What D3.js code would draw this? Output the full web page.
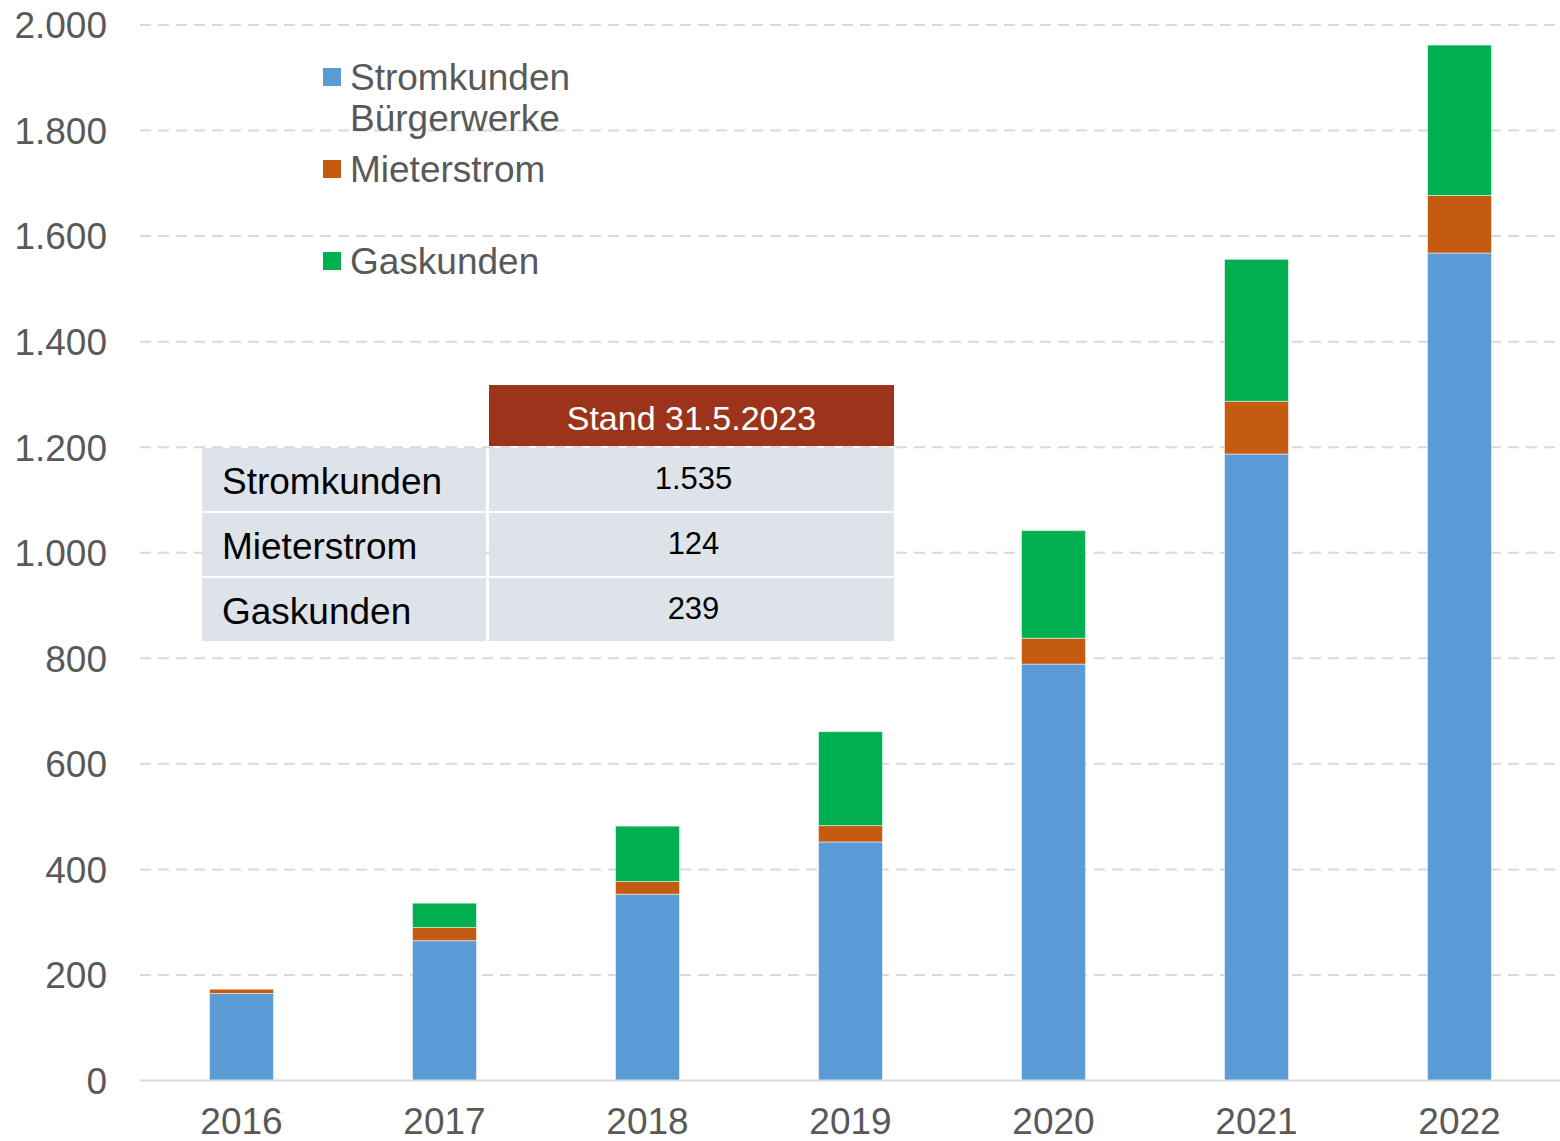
<!DOCTYPE html>
<head>
  <meta charset="utf-8">
  <script src="https://d3js.org/d3.v7.min.js"></script>
  <style>
    body { margin: 0; background: #fff; font-family: 'Liberation Sans', Arial, sans-serif; }
    .tick-label { font-size: 37px; fill: #595959; }
    .legend-label { font-size: 37px; fill: #595959; }
    .table-label { font-size: 37px; fill: #000; }
    .table-value { font-size: 31px; fill: #000; }
    .table-head { font-size: 34px; fill: #fff; }
  </style>
</head>
<body>
<div id="chart"></div>
<script>

// ---------- data ----------
const years = ["2016", "2017", "2018", "2019", "2020", "2021", "2022"];
const strom = [165, 265, 353, 452, 789, 1187, 1568];
const mieter = [8, 25, 24, 31, 49, 100, 109];
const gas = [0, 46, 105, 178, 204, 269, 285];

const seriesNames = ["Stromkunden Bürgerwerke", "Mieterstrom", "Gaskunden"];
const legendLines = [["Stromkunden", "Bürgerwerke"], ["Mieterstrom"], ["Gaskunden"]];
const colors = ["#5B9BD5", "#C55A11", "#00B050"];

const yTicks = [0, 200, 400, 600, 800, 1000, 1200, 1400, 1600, 1800, 2000];

const tableHeader = "Stand 31.5.2023";
const tableLabels = ["Stromkunden", "Mieterstrom", "Gaskunden"];
const tableValues = ["1.535", "124", "239"];

// ---------- setup ----------
const W = 1560, H = 1141;
const plot = { left: 140, right: 1561, top: 25, bottom: 1080.5 };

const svg = d3.select("#chart").append("svg")
    .attr("width", W)
    .attr("height", H);

const x = d3.scaleBand()
    .domain(years)
    .range([plot.left, plot.right])
    .paddingInner(0.685)
    .paddingOuter(0.3425);

const y = d3.scaleLinear()
    .domain([0, 2000])
    .range([plot.bottom, plot.top]);

const fmt = d3.format(",");
const deFmt = v => fmt(v).replace(/,/g, ".");

// grid lines
svg.append("g").selectAll("line")
    .data(yTicks.filter(d => d > 0))
    .join("line")
    .attr("x1", plot.left)
    .attr("x2", W)
    .attr("y1", d => y(d))
    .attr("y2", d => y(d))
    .attr("stroke", "#D9D9D9")
    .attr("stroke-width", 2)
    .attr("stroke-dasharray", "11,7");

// y tick labels
svg.append("g").selectAll("text")
    .data(yTicks)
    .join("text")
    .attr("class", "tick-label")
    .attr("x", 107)
    .attr("y", d => y(d))
    .attr("dy", "0.36em")
    .attr("text-anchor", "end")
    .text(d => deFmt(d));

// stacked bars
const rows = years.map((yr, i) => ({ year: yr, s0: strom[i], s1: mieter[i], s2: gas[i] }));
const stack = d3.stack().keys(["s0", "s1", "s2"]);
const layers = stack(rows);

svg.append("g").selectAll("g")
    .data(layers)
    .join("g")
    .attr("fill", (d, i) => colors[i])
    .selectAll("rect")
    .data(d => d.filter(p => p[1] - p[0] > 0))
    .join("rect")
    .attr("x", d => x(d.data.year))
    .attr("width", x.bandwidth())
    .attr("y", d => y(d[1]))
    .attr("height", d => y(d[0]) - y(d[1]))
    .attr("stroke", "rgba(255,255,255,0.5)")
    .attr("stroke-width", 1);

// x axis line
svg.append("line")
    .attr("x1", plot.left)
    .attr("x2", W)
    .attr("y1", plot.bottom)
    .attr("y2", plot.bottom)
    .attr("stroke", "#D9D9D9")
    .attr("stroke-width", 2);

// x labels
svg.append("g").selectAll("text")
    .data(years)
    .join("text")
    .attr("class", "tick-label")
    .attr("x", d => x(d) + x.bandwidth() / 2)
    .attr("y", 1121)
    .attr("dy", "0.36em")
    .attr("text-anchor", "middle")
    .text(d => d);

// legend
const legend = svg.append("g").selectAll("g")
    .data(seriesNames)
    .join("g")
    .attr("transform", (d, i) => `translate(323, ${77 + i * 92})`);

legend.append("rect")
    .attr("x", 0)
    .attr("y", -9)
    .attr("width", 18)
    .attr("height", 18)
    .attr("fill", (d, i) => colors[i]);

legend.append("text")
    .attr("class", "legend-label")
    .selectAll("tspan")
    .data((d, i) => legendLines[i])
    .join("tspan")
    .attr("x", 27)
    .attr("y", (d, j) => j * 41)
    .attr("dy", "0.36em")
    .text(d => d);

// table
const tbl = svg.append("g");
const colX = [202, 489], colW = [284, 405];
const headY = 385, headH = 61, rowY0 = 448, rowH = 63, rowGap = 2;

tbl.append("rect")
    .attr("x", colX[1])
    .attr("y", headY)
    .attr("width", colW[1])
    .attr("height", headH)
    .attr("fill", "#9C341B");

tbl.append("text")
    .attr("class", "table-head")
    .attr("x", colX[1] + colW[1] / 2)
    .attr("y", headY + headH / 2 + 2)
    .attr("dy", "0.36em")
    .attr("text-anchor", "middle")
    .text(tableHeader);

const trow = tbl.selectAll("g.row")
    .data(tableLabels)
    .join("g")
    .attr("class", "row")
    .attr("transform", (d, i) => `translate(0, ${rowY0 + i * (rowH + rowGap)})`);

trow.append("rect")
    .attr("x", colX[0])
    .attr("width", colW[0])
    .attr("height", rowH)
    .attr("fill", "#DEE3EA");

trow.append("rect")
    .attr("x", colX[1])
    .attr("width", colW[1])
    .attr("height", rowH)
    .attr("fill", "#DEE3EA");

trow.append("text")
    .attr("class", "table-label")
    .attr("x", 222)
    .attr("y", rowH / 2 + 1)
    .attr("dy", "0.36em")
    .text(d => d);

trow.append("text")
    .attr("class", "table-value")
    .attr("x", colX[1] + colW[1] / 2 + 2)
    .attr("y", rowH / 2 - 2)
    .attr("dy", "0.36em")
    .attr("text-anchor", "middle")
    .text((d, i) => tableValues[i]);

</script>
</body>
